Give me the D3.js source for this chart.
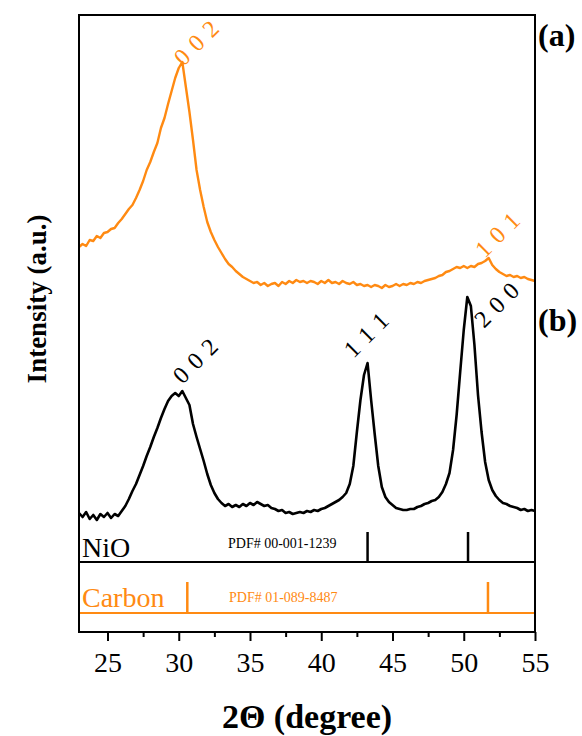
<!DOCTYPE html>
<html>
<head>
<meta charset="utf-8">
<script src="https://cdn.jsdelivr.net/npm/d3@7"></script>
<style>
  body { margin: 0; background: #fff; }
  svg { display: block; font-family: "Liberation Serif", "Times New Roman", serif; }
</style>
</head>
<body>
<div class="chart-container"></div>
<script>
//! DATA
// 2theta sampling of both patterns (degree)
const ANGLES = d3.range(23, 55.001, 0.25);

// (a) carbon pattern, intensity in a.u.
const CARBON_I = [
  385, 388, 386, 392, 391, 396, 394, 399, 400, 403, 404, 409,
  413, 418, 423, 427, 434, 442, 451, 462, 470, 480, 489, 504,
  514, 528, 541, 554, 564, 570, 545, 520, 492, 462, 442, 425,
  410, 400, 392, 385, 379, 373, 368, 365, 361, 358, 355, 353,
  351, 349, 350, 347, 349, 346, 348, 349, 346, 350, 348, 351,
  349, 352, 350, 351, 349, 351, 350, 348, 351, 349, 352, 349,
  350, 348, 351, 349, 348, 350, 347, 348, 346, 347, 345, 347,
  346, 344, 347, 345, 346, 348, 346, 348, 347, 349, 348, 350,
  349, 351, 352, 353, 354, 356, 357, 360, 361, 363, 365, 364,
  366, 364, 366, 365, 368, 369, 371, 374, 367, 363, 360, 358,
  356, 357, 355, 356, 354, 355, 353, 352, 351
];

// (b) NiO / carbon composite pattern
const NIO_I = [
  119, 115, 120, 113, 117, 112, 118, 115, 119, 114, 118, 116,
  121, 126, 133, 141, 148, 157, 166, 176, 185, 195, 204, 214,
  223, 231, 236, 239, 236, 241, 234, 227, 208, 195, 183, 171,
  158, 147, 139, 133, 129, 126, 128, 125, 127, 125, 128, 126,
  129, 127, 130, 128, 126, 127, 124, 123, 121, 122, 119, 120,
  118, 119, 120, 119, 121, 120, 122, 121, 123, 124, 126, 128,
  130, 132, 135, 139, 148, 166, 200, 232, 257, 269, 232, 198,
  166, 145, 135, 130, 127, 124, 123, 122, 122, 123, 123, 125,
  126, 128, 129, 131, 132, 135, 140, 148, 159, 182, 217, 260,
  302, 335, 326, 287, 237, 200, 170, 152, 142, 136, 132, 129,
  128, 126, 125, 124, 122, 123, 121, 122, 121
];

// peak indexing
const CARBON_PEAKS = ['0 0 2', '1 0 1'];
const CARBON_PEAK_POS = [30.2, 51.75];
const CARBON_PEAK_I = [570, 374];
const NIO_PEAKS = ['0 0 2', '1 1 1', '2 0 0'];
const NIO_PEAK_POS = [30.2, 43.25, 50.3];
const NIO_PEAK_I = [241, 269, 337];

// reference cards
const NIO_REF = [43.25, 50.3];
const CARBON_REF = [30.6, 51.7];

const X_TICKS = [25, 30, 35, 40, 45, 50, 55];
const X_MINOR = [27.5, 32.5, 37.5, 42.5, 47.5, 52.5];

//! CONSTS
const WIDTH = 582;
const HEIGHT = 736;
const LEFT = 79, RIGHT = 535, TOP = 15, BOTTOM = 632;
const ORANGE = '#ff8a12';
const NIO_SEP = 562;      // line under the NiO card
const CARBON_BASE = 613;  // carbon card base line

// label offsets from the peak top (px), kept out of the data
const CARBON_LABEL_OFF = [[2, 5], [-4, 1]];
const NIO_LABEL_OFF = [[1, -6], [-14, -4], [16, 34]];

//! SVG
const svg = d3.select('.chart-container')
  .append('svg')
  .attr('width', WIDTH)
  .attr('height', HEIGHT);

const x = d3.scaleLinear().domain([23, 55]).range([LEFT, RIGHT]);
const y = d3.scaleLinear().domain([0, 617]).range([BOTTOM, TOP]);

const line = d3.line()
  .x(d => x(d[0]))
  .y(d => y(d[1]));

// curves
svg.append('path')
  .datum(d3.zip(ANGLES, CARBON_I))
  .attr('d', line)
  .attr('fill', 'none')
  .attr('stroke', ORANGE)
  .attr('stroke-width', 2.4)
  .attr('stroke-linejoin', 'round');

svg.append('path')
  .datum(d3.zip(ANGLES, NIO_I))
  .attr('d', line)
  .attr('fill', 'none')
  .attr('stroke', '#000')
  .attr('stroke-width', 2.6)
  .attr('stroke-linejoin', 'round');

// peak labels
const peakLabel = (labels, pos, inten, off, color) => {
  svg.append('g')
    .selectAll('text')
    .data(labels)
    .enter()
    .append('text')
    .attr('transform', (d, i) => {
      const px = x(pos[i]) + off[i][0];
      const py = y(inten[i]) + off[i][1];
      return `translate(${px},${py}) rotate(-45)`;
    })
    .attr('font-size', 24)
    .attr('letter-spacing', 1)
    .attr('fill', color)
    .text(d => d);
};
peakLabel(CARBON_PEAKS, CARBON_PEAK_POS, CARBON_PEAK_I, CARBON_LABEL_OFF, ORANGE);
peakLabel(NIO_PEAKS, NIO_PEAK_POS, NIO_PEAK_I, NIO_LABEL_OFF, '#000');

// reference cards
svg.append('line')
  .attr('x1', LEFT).attr('x2', RIGHT)
  .attr('y1', NIO_SEP).attr('y2', NIO_SEP)
  .attr('stroke', '#000').attr('stroke-width', 2);

svg.append('g')
  .selectAll('line')
  .data(NIO_REF)
  .enter()
  .append('line')
  .attr('x1', d => x(d)).attr('x2', d => x(d))
  .attr('y1', NIO_SEP - 30).attr('y2', NIO_SEP)
  .attr('stroke', '#000').attr('stroke-width', 2.5);

svg.append('line')
  .attr('x1', LEFT).attr('x2', RIGHT)
  .attr('y1', CARBON_BASE).attr('y2', CARBON_BASE)
  .attr('stroke', ORANGE).attr('stroke-width', 2);

svg.append('g')
  .selectAll('line')
  .data(CARBON_REF)
  .enter()
  .append('line')
  .attr('x1', d => x(d)).attr('x2', d => x(d))
  .attr('y1', CARBON_BASE - 31).attr('y2', CARBON_BASE - 1)
  .attr('stroke', ORANGE).attr('stroke-width', 2.5);

svg.append('text')
  .attr('x', 82).attr('y', 557)
  .attr('font-size', 28)
  .text('NiO');
svg.append('text')
  .attr('x', 228).attr('y', 548)
  .attr('font-size', 14)
  .text('PDF# 00-001-1239');
svg.append('text')
  .attr('x', 82).attr('y', 607)
  .attr('font-size', 28)
  .attr('fill', ORANGE)
  .text('Carbon');
svg.append('text')
  .attr('x', 229).attr('y', 602)
  .attr('font-size', 14)
  .attr('fill', ORANGE)
  .text('PDF# 01-089-8487');

// frame
svg.append('rect')
  .attr('x', LEFT).attr('y', TOP)
  .attr('width', RIGHT - LEFT).attr('height', BOTTOM - TOP)
  .attr('fill', 'none')
  .attr('stroke', '#000')
  .attr('stroke-width', 2);

// x axis
const xAxis = d3.axisBottom(x)
  .tickValues(X_TICKS)
  .tickSize(9)
  .tickPadding(11)
  .tickFormat(d3.format('d'));

const axisG = svg.append('g')
  .attr('transform', `translate(0,${BOTTOM})`)
  .call(xAxis);
axisG.select('.domain').remove();
axisG.selectAll('.tick line').attr('stroke-width', 2);
axisG.selectAll('.tick text')
  .attr('font-family', '"Liberation Serif", serif')
  .attr('font-size', 28)
  .attr('fill', '#000');

svg.append('g')
  .attr('transform', `translate(0,${BOTTOM})`)
  .call(d3.axisBottom(x).tickValues(X_MINOR).tickSize(5).tickFormat(''))
  .call(g => g.select('.domain').remove())
  .selectAll('.tick line').attr('stroke-width', 2);

// axis titles
svg.append('text')
  .attr('x', 307).attr('y', 728)
  .attr('text-anchor', 'middle')
  .attr('font-size', 34)
  .attr('font-weight', 'bold')
  .text('2Θ (degree)');

svg.append('text')
  .attr('transform', 'translate(46,299) rotate(-90)')
  .attr('text-anchor', 'middle')
  .attr('font-size', 27)
  .attr('font-weight', 'bold')
  .text('Intensity (a.u.)');

// panel labels
svg.append('text')
  .attr('x', 538).attr('y', 46)
  .attr('font-size', 32)
  .attr('font-weight', 'bold')
  .text('(a)');
svg.append('text')
  .attr('x', 538).attr('y', 331)
  .attr('font-size', 32)
  .attr('font-weight', 'bold')
  .text('(b)');
</script>
</body>
</html>
